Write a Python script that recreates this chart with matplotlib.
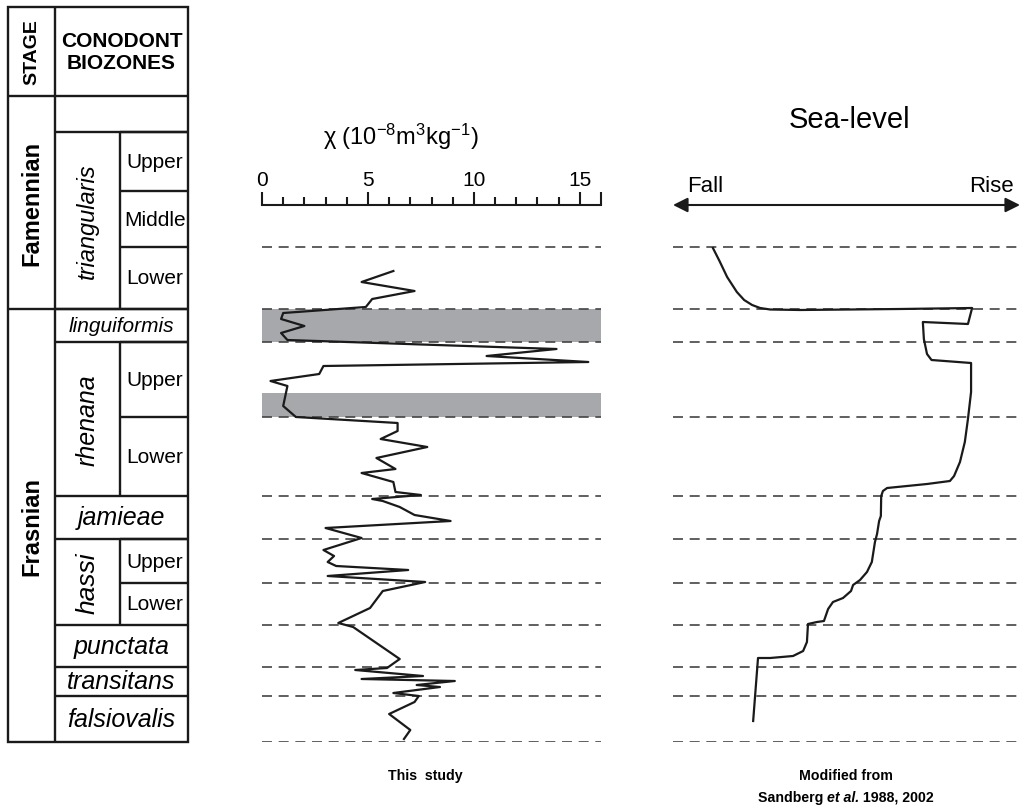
import matplotlib.pyplot as plt
from matplotlib.patches import Rectangle
from matplotlib.offsetbox import TextArea, HPacker, AnnotationBbox

plt.rcParams['font.family'] = ['Liberation Sans', 'DejaVu Sans']
plt.rcParams['mathtext.default'] = 'regular'

# stratigraphic height, arbitrary units, 0 = base of falsiovalis zone
TOP = 73.5
stage_names = ['Frasnian', 'Famennian']
stage_base = [0.0, 43.3]
stage_top = [43.3, 64.6]

zone_names = ['falsiovalis', 'transitans', 'punctata', 'hassi', 'jamieae',
              'rhenana', 'linguiformis', 'triangularis']
zone_base = [0.0, 4.6, 7.5, 11.7, 20.3, 24.6, 40.0, 43.3]
zone_top = [4.6, 7.5, 11.7, 20.3, 24.6, 40.0, 43.3, 61.0]
zone_size = [18, 18, 18, 19, 18, 18, 15, 17]

sub_names = ['Lower', 'Upper', 'Lower', 'Upper', 'Lower', 'Middle', 'Upper']
sub_base = [11.7, 15.9, 24.6, 32.5, 43.3, 49.5, 55.1]
sub_top = [15.9, 20.3, 32.5, 40.0, 49.5, 55.1, 61.0]
split_zones = ['hassi', 'rhenana', 'triangularis']

boundaries = [0.0, 4.6, 7.5, 11.7, 15.9, 20.3, 24.6, 32.5, 40.0, 43.3, 49.5]
grey_lo = [40.0, 32.5]
grey_hi = [43.3, 34.9]

# magnetic susceptibility (10^-8 m3/kg), top to bottom
chi_height = [47.1, 46.0, 45.1, 44.3, 43.5, 42.9, 42.3, 41.6, 40.9, 40.2,
              39.3, 38.6, 38.0, 37.6, 36.8, 36.1, 35.6, 33.6, 32.5, 31.9,
              31.1, 30.3, 29.5, 28.4, 27.3, 26.9, 26.0, 25.0, 24.7, 24.3,
              24.1, 23.5, 22.7, 22.1, 21.4, 20.4, 19.2, 18.6, 18.0, 17.6,
              17.2, 16.6, 16.0, 15.1, 13.4, 11.9, 11.5, 8.3, 7.4, 7.2,
              6.6, 6.3, 6.1, 5.7, 5.5, 4.9, 4.6, 4.0, 2.8, 1.2, 0.3]
chi_value = [6.2, 4.7, 7.2, 5.2, 4.9, 1.0, 0.9, 2.0, 0.9, 1.2,
             13.9, 10.6, 15.4, 2.9, 2.7, 0.4, 1.2, 1.0, 1.6, 6.4,
             6.4, 5.6, 7.8, 5.4, 6.3, 4.7, 6.2, 6.3, 7.5, 5.2,
             5.7, 6.5, 7.2, 8.9, 3.0, 4.7, 2.9, 3.4, 3.1, 3.5,
             6.9, 3.1, 7.7, 5.7, 5.1, 3.6, 4.3, 6.5, 5.9, 4.4,
             7.6, 4.7, 9.1, 7.3, 8.4, 6.2, 7.4, 7.2, 6.0, 7.0, 6.7]

# relative sea level (0 = fall end, 10 = rise end)
sea_height = [49.4, 48.1, 46.5, 45.0, 44.2, 43.7, 43.4, 43.25, 43.2, 43.3, 43.4,
              41.8, 42.0, 40.3, 38.8, 38.2, 37.9, 35.0, 32.3, 30.0, 28.0,
              26.6, 26.1, 25.8, 25.4, 25.1, 24.6, 22.6, 22.1, 20.8, 20.0,
              18.0, 17.0, 16.2, 15.7, 15.1, 14.4, 14.0, 13.3, 12.1, 12.0,
              11.8, 10.0, 9.1, 8.6, 8.4, 8.4, 2.1]
sea_level = [1.15, 1.34, 1.56, 1.84, 2.05, 2.28, 2.51, 2.80, 3.66, 6.54, 8.62,
             8.50, 7.20, 7.23, 7.32, 7.45, 8.59, 8.59, 8.50, 8.41, 8.27,
             8.10, 7.98, 7.32, 6.17, 6.05, 6.00, 5.99, 5.94, 5.88, 5.82,
             5.73, 5.59, 5.39, 5.19, 5.13, 4.90, 4.61, 4.47, 4.35, 4.15,
             3.89, 3.86, 3.75, 3.46, 2.80, 2.45, 2.31]

W, H = 1024, 812
ink = '#1a1a1a'
dash = (0, (6, 4))

fig = plt.figure(figsize=(W / 100, H / 100), dpi=100)


def column(x0, x1):
    return [x0 / W, (H - 743) / H, (x1 - x0) / W, 735 / H]


# ---- stratigraphic table
ax_t = fig.add_axes(column(8, 188))
ax_t.set_xlim(0, 180)
ax_t.set_ylim(0, TOP)
ax_t.axis('off')
c1, c2, c3 = 47, 112, 180
tlw = 1.7
ax_t.add_patch(Rectangle((0, 0), c3, TOP, fill=False, lw=tlw, ec=ink, clip_on=False))
ax_t.vlines(c1, 0, TOP, color=ink, lw=tlw)
ax_t.hlines(stage_top, 0, c3, color=ink, lw=tlw)
ax_t.hlines(zone_top, c1, c3, color=ink, lw=tlw)
ax_t.hlines(sub_top, c2, c3, color=ink, lw=tlw)

for name, lo, hi in zip(stage_names, stage_base, stage_top):
    ax_t.text(c1 / 2, (lo + hi) / 2, name, rotation=90, ha='center', va='center',
              fontsize=17, fontweight='bold')
for name, lo, hi, fs in zip(zone_names, zone_base, zone_top, zone_size):
    if name in split_zones:
        ax_t.vlines(c2, lo, hi, color=ink, lw=tlw)
        ax_t.text((c1 + c2) / 2, (lo + hi) / 2, name, rotation=90, ha='center',
                  va='center', fontsize=fs, style='italic')
    else:
        ax_t.text((c1 + c3) / 2, (lo + hi) / 2, name, ha='center', va='center',
                  fontsize=fs, style='italic')
for name, lo, hi in zip(sub_names, sub_base, sub_top):
    ax_t.text((c2 + c3) / 2 + 1, (lo + hi) / 2, name, ha='center', va='center',
              fontsize=15)
ax_t.text(c1 / 2, (stage_top[-1] + TOP) / 2, 'STAGE', rotation=90, ha='center',
          va='center', fontsize=14, fontweight='bold')
ax_t.text((c1 + c3) / 2, (stage_top[-1] + TOP) / 2, 'CONODONT\nBIOZONES',
          ha='center', va='center', fontsize=15, fontweight='bold', linespacing=1.15)

# ---- susceptibility log
ax_c = fig.add_axes(column(262, 601))
ax_c.set_xlim(0, 16)
ax_c.set_ylim(0, TOP)
for s in ['left', 'right', 'bottom']:
    ax_c.spines[s].set_visible(False)
ax_c.spines['top'].set_position(('data', 53.7))
ax_c.spines['top'].set_linewidth(1.5)
ax_c.spines['top'].set_color(ink)
ax_c.xaxis.set_ticks_position('top')
ax_c.set_xticks([0, 5, 10, 15, 16])
ax_c.set_xticklabels(['0', '5', '10', '15', ''])
ax_c.set_xticks(range(17), minor=True)
ax_c.tick_params(which='major', length=9.5, width=1.5, color=ink, labelsize=15, pad=2)
ax_c.tick_params(which='minor', length=5.5, width=1.5, color=ink)
ax_c.set_yticks([])
for lo, hi in zip(grey_lo, grey_hi):
    ax_c.axhspan(lo, hi, color='#a7a8ab', lw=0, zorder=1)
ax_c.hlines(boundaries, 0, 16, colors='#444444', lw=1.2, linestyles=[dash], zorder=2)
ax_c.plot(chi_value, chi_height, color=ink, lw=1.6, zorder=3)
fig.text(401 / W, 1 - 137 / H, 'χ (10$^{-8}$m$^{3}$kg$^{-1}$)', ha='center',
         va='center', fontsize=17)

# ---- sea-level curve
ax_s = fig.add_axes(column(673, 1020))
ax_s.set_xlim(0, 10)
ax_s.set_ylim(0, TOP)
ax_s.axis('off')
ax_s.hlines(boundaries, 0, 10, colors='#444444', lw=1.2, linestyles=[dash], zorder=2)
ax_s.plot(sea_level, sea_height, color=ink, lw=1.6, zorder=3)
ax_s.annotate('', xy=(0, 53.7), xytext=(10, 53.7), annotation_clip=False,
              arrowprops=dict(arrowstyle='<|-|>', lw=1.5, color=ink,
                              mutation_scale=22, shrinkA=0, shrinkB=0))
ax_s.text(0.4, 54.6, 'Fall', ha='left', va='bottom', fontsize=16)
ax_s.text(9.83, 54.6, 'Rise', ha='right', va='bottom', fontsize=16)
fig.text(850 / W, 1 - 120 / H, 'Sea-level', ha='center', va='center', fontsize=21)

# ---- captions
cap = 10.2
fig.text(425 / W, 1 - 776 / H, 'This  study', ha='center', va='center',
         fontsize=cap, fontweight='bold')
fig.text(846 / W, 1 - 776 / H, 'Modified from', ha='center', va='center',
         fontsize=cap, fontweight='bold')
parts = [TextArea('Sandberg ', textprops=dict(fontsize=cap, fontweight='bold')),
         TextArea('et al.', textprops=dict(fontsize=cap, fontweight='bold', style='italic')),
         TextArea(' 1988, 2002', textprops=dict(fontsize=cap, fontweight='bold'))]
box = HPacker(children=parts, align='baseline', pad=0, sep=0)
fig.add_artist(AnnotationBbox(box, (846 / W, 1 - 798 / H), xycoords='figure fraction',
                              frameon=False, box_alignment=(0.5, 0.5)))

fig.savefig('out.png', dpi=100)
